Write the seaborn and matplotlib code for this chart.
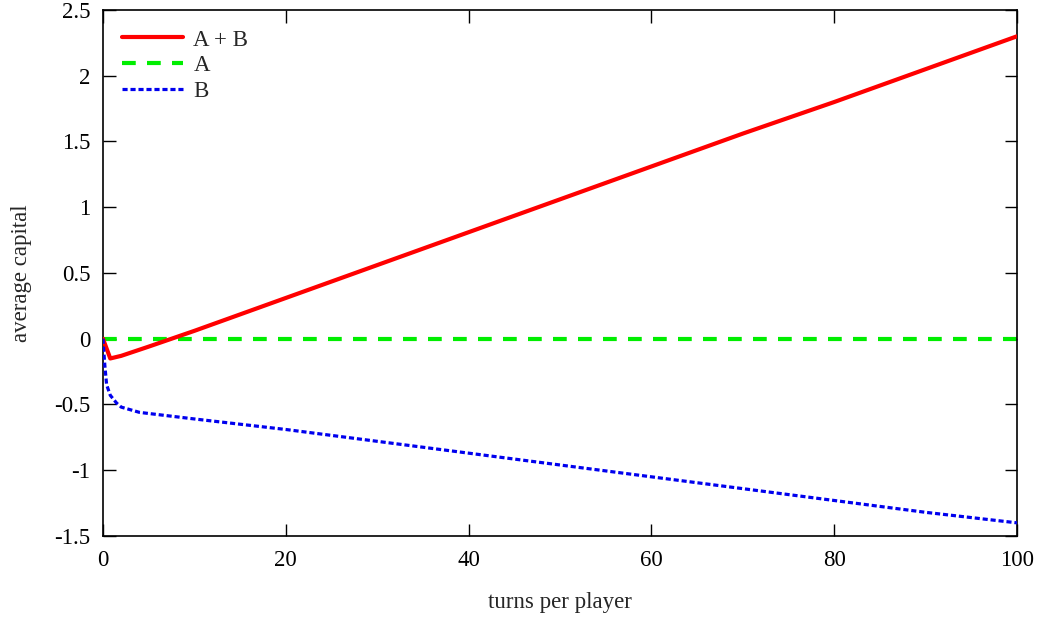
import matplotlib
matplotlib.use("Agg")
import matplotlib.pyplot as plt
import seaborn as sns
import pandas as pd
from matplotlib.ticker import FixedLocator, FuncFormatter

# Data
t_ab = [0, 0.8, 2, 5, 7.5, 10, 20, 30, 40, 50, 60, 70, 80, 90, 100]
v_ab = [0, -0.15, -0.13, -0.06, 0.0, 0.06, 0.31, 0.56, 0.81, 1.06, 1.31, 1.56, 1.80, 2.05, 2.30]

t_a = [0, 100]
v_a = [0, 0]

t_b = [0, 0.2, 0.4, 0.8, 1.5, 2, 4, 10, 15, 20, 30, 40, 50, 60, 70, 80, 90, 100]
v_b = [0, -0.2, -0.35, -0.43, -0.49, -0.52, -0.56, -0.61, -0.65, -0.69, -0.78, -0.87, -0.96, -1.05, -1.14, -1.23, -1.32, -1.40]

labels = ["A + B", "A", "B"]
x_ticks = [0, 20, 40, 60, 80, 100]
y_ticks = [-1.5, -1, -0.5, 0, 0.5, 1, 1.5, 2, 2.5]

sns.set_theme(style="white")
plt.rcParams["font.family"] = ["Liberation Serif", "DejaVu Serif"]
plt.rcParams["axes.unicode_minus"] = False

FS = 16.5

fig = plt.figure(figsize=(10.39, 6.17), dpi=100)
ax = fig.add_axes([0.0991, 0.1313, 0.8797, 0.8525])

df_ab = pd.DataFrame({"t": t_ab, "v": v_ab})
df_a = pd.DataFrame({"t": t_a, "v": v_a})
df_b = pd.DataFrame({"t": t_b, "v": v_b})

sns.lineplot(data=df_ab, x="t", y="v", ax=ax, color="#ff0000", linewidth=3.0,
             label=labels[0], zorder=3)
sns.lineplot(data=df_a, x="t", y="v", ax=ax, color="#00ee00", linewidth=3.0,
             label=labels[1], zorder=2, linestyle=(0, (3.3, 2.7)))
sns.lineplot(data=df_b, x="t", y="v", ax=ax, color="#0000ee", linewidth=2.3,
             label=labels[2], zorder=4, linestyle=(0, (1.6, 0.9)))

ax.set_xlim(0, 100)
ax.set_ylim(-1.5, 2.5)
ax.xaxis.set_major_locator(FixedLocator(x_ticks))
ax.yaxis.set_major_locator(FixedLocator(y_ticks))
ax.yaxis.set_major_formatter(FuncFormatter(lambda v, p: ("%g" % v)))
ax.tick_params(direction="in", length=9, width=1, colors="black", labelsize=FS,
               top=True, right=True, bottom=True, left=True)
ax.tick_params(axis="x", pad=10)
ax.tick_params(axis="y", pad=9)
for s in ax.spines.values():
    s.set_color("black")
    s.set_linewidth(1.2)

ax.set_xlabel("turns per player", fontsize=FS, labelpad=15)
ax.set_ylabel("average capital", fontsize=FS, labelpad=16)

leg = ax.legend(loc="upper left", frameon=False, fontsize=FS, handlelength=2.65,
                handletextpad=0.45, labelspacing=0.2, borderaxespad=0.45,
                bbox_to_anchor=(0.0, 1.0))

fig.savefig("out.png", dpi=100)
